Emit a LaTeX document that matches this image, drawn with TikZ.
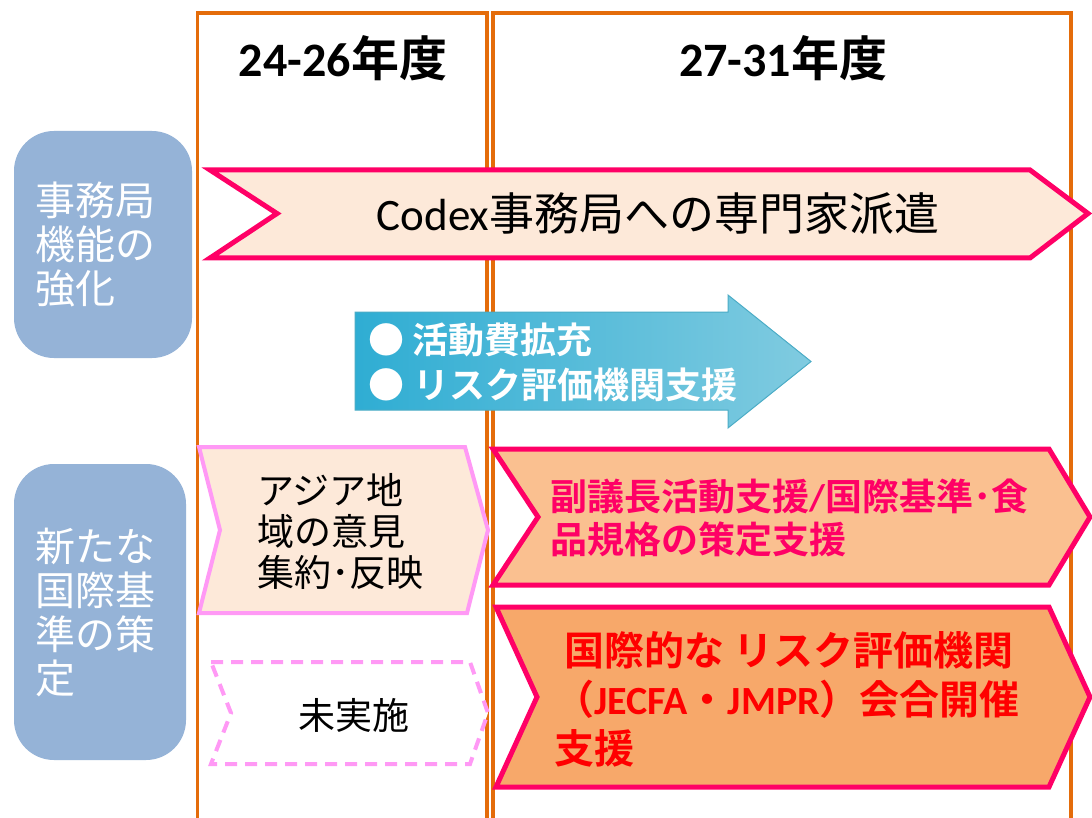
\documentclass[tikz,border=0pt]{standalone}
\usepackage{fontspec}
\setmainfont{Noto Sans CJK JP}[BoldFont={Noto Sans CJK JP Bold}]
\newfontfamily\lat{Carlito}

\definecolor{frameorange}{HTML}{E46C0A}
\definecolor{catblue}{HTML}{95B3D7}
\definecolor{hotpink}{HTML}{FF0066}
\definecolor{peach}{HTML}{FDE9D9}
\definecolor{lilac}{HTML}{FF99F5}
\definecolor{lightorange}{HTML}{FAC090}
\definecolor{midorange}{HTML}{F7A86A}
\definecolor{arrowdark}{HTML}{2FADD3}
\definecolor{arrowlight}{HTML}{80CBE0}
\definecolor{arrowedge}{HTML}{4BACC6}

\tikzset{
  frame/.style={draw=frameorange, line width=3.5pt},
  catbox/.style={fill=catblue, rounded corners=40pt, text=white, align=left,
                 font=\fontsize{40}{44}\selectfont, inner sep=0pt},
  redline/.style={draw=hotpink, line width=5pt},
  pinkline/.style={draw=lilac, line width=4pt},
  head/.style={font=\fontsize{48}{52}\selectfont\bfseries}
}

\begin{document}
\begin{tikzpicture}[x=1pt,y=-1pt]
\fill[white] (0,0) rectangle (1092,818);
\useasboundingbox (0,0) rectangle (1092,818);

% period columns
\draw[frame] (197.5,830) -- (197.5,13) -- (487,13) -- (487,830);
\draw[frame] (493,830) -- (493,13) -- (1071,13) -- (1071,830);
\node[head] (yr1) at (343,58) {{\lat\bfseries 24-26}年度};
\node[head] (yr2) at (783,58) {{\lat\bfseries 27-31}年度};

% category labels
\node[catbox, minimum width=178pt, minimum height=227pt, text width=136pt]
  (secr) at (103,244.5) {事務局\\機能の\\強化};
\node[catbox, minimum width=172pt, minimum height=296pt, text width=130pt]
  (stds) at (100,612) {新たな\\国際基\\準の策\\定};

% secretariat row
\draw[redline, fill=peach] (210,170) -- (1030,170) -- (1088,213.5)
  -- (1030,258) -- (210,258) -- (277,213.5) -- cycle;
\node[font=\fontsize{45}{50}\selectfont] (codex) at (658,214)
  {{\lat Codex}事務局への専門家派遣};

\draw[draw=arrowedge, line width=1pt, left color=arrowdark, right color=arrowlight]
  (355,312) -- (728,312) -- (728,295) -- (811,361.5) -- (728,428)
  -- (728,410) -- (355,410) -- cycle;
\node[anchor=west, text=white, align=left, inner sep=0pt,
      font=\fontsize{36}{45}\selectfont\bfseries] (fund) at (368,362)
  {● 活動費拡充\\●\hspace{9pt}リスク評価機関支援};

% standards row
\draw[pinkline, fill=peach] (199,447) -- (465,447) -- (488,530)
  -- (467,613) -- (199,613) -- (220,530) -- cycle;
\node[anchor=west, align=left, inner sep=0pt,
      font=\fontsize{37}{41}\selectfont] (asia) at (257,531)
  {アジア地\\域の意見\\集約･反映};

\draw[pinkline, dash pattern=on 12pt off 8pt, fill=white] (211,662) -- (470,662)
  -- (488,713) -- (470,764) -- (211,764) -- (231,713) -- cycle;
\node[font=\fontsize{37}{41}\selectfont] (none) at (354,715) {未実施};

\draw[redline, fill=lightorange] (493,449) -- (1049,449) -- (1090,517)
  -- (1049,585) -- (493,585) -- (538,517) -- cycle;
\node[anchor=west, align=left, inner sep=0pt, text=hotpink,
      font=\fontsize{37}{43}\selectfont\bfseries] (vice) at (550,518)
  {副議長活動支援{\lat\bfseries /}国際基準･食\\品規格の策定支援};

\draw[redline, fill=midorange] (496,607) -- (1049,607) -- (1090,697)
  -- (1049,787) -- (496,787) -- (537,697) -- cycle;
\node[anchor=west, align=left, inner sep=0pt, text=red,
      font=\fontsize{40}{49}\selectfont\bfseries] (jecfa) at (554,699)
  {\hspace*{10pt}国際的な リスク評価機関\\（{\lat\bfseries JECFA}・{\lat\bfseries JMPR}）会合開催\\支援};
\end{tikzpicture}
\end{document}
